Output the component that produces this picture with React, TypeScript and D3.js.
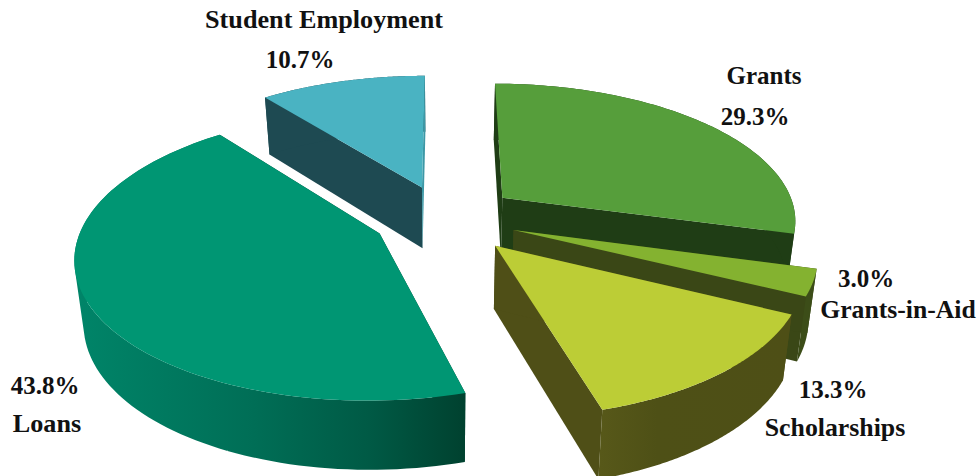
import React from "react";
import * as d3 from "d3";

// Share of funding by source, in percent, clockwise from twelve o'clock.
const categories = ["Grants", "Grants-in-Aid", "Scholarships", "Loans", "Student Employment"];
const shares = [29.3, 3.0, 13.3, 43.8, 10.7];

// How far each slice is pulled away from the centre, as a fraction of the radius.
const explosion = [0.25, 0.245, 0.257, 0.245, 0.245];

const topColors = ["#569e3b", "#84b230", "#bccd36", "#009673", "#4ab3c2"];
const rimColors = ["#1f3d15", "#3c4d18", "url(#scholarshipWall)", "url(#loanWall)", "#1e4a52"];
const startCutColors = ["#1f3d15", "#3a4716", "#4f4f17", "#00412f", "#1e4a52"];
const endCutColors = ["#1f3d15", "#3a4716", "#4f4f17", "#00412f", "#3d98a6"];

// Back-to-front painting order of the slices.
const paintOrder = [4, 0, 1, 3, 2];
// Slices whose closing cut face sits in front of their own rim wall.
const closingCutOnTop = [4];

const W = 979;
const H = 476;

// Camera model for the tilted disc: unit-plane coordinates go to screen pixels.
const CX = 445;
const CY = 218;
const SCALE_X = 295;
const SCALE_Y = 136.8;
const PERSPECTIVE = 0.15;
const DEPTH = 62;
const BASE_SHRINK = 0.975;

type Pt = [number, number];

const persp = (v: number) => 1 / (1 + PERSPECTIVE * v);
const project = ([u, v]: Pt): Pt => {
  const s = persp(v);
  return [CX + SCALE_X * u * s, CY - SCALE_Y * v * s];
};
const projectBase = ([u, v]: Pt): Pt => {
  const [x, y] = project([u, v]);
  return [CX + (x - CX) * BASE_SHRINK, y + DEPTH * Math.pow(persp(v), 0.6)];
};

const outline = d3.line<Pt>();

const pie = d3.pie<number>().sort(null).value((d) => d);
const arcs = pie(shares);

const labels = [
  { t: "Student Employment", x: 324, y: 28, size: 26.2 },
  { t: "10.7%", x: 300, y: 68, size: 25 },
  { t: "Grants", x: 764, y: 84, size: 25 },
  { t: "29.3%", x: 755, y: 125, size: 25 },
  { t: "3.0%", x: 866, y: 287, size: 25 },
  { t: "Grants-in-Aid", x: 898, y: 318, size: 25.7 },
  { t: "13.3%", x: 833, y: 398, size: 25 },
  { t: "Scholarships", x: 835, y: 436, size: 25.8 },
  { t: "43.8%", x: 45, y: 394, size: 25 },
  { t: "Loans", x: 47, y: 432, size: 26.2 },
];

// Every quad gets the same winding so overlapping quads never cancel under the nonzero rule.
function wound(quad: Pt[]): Pt[] {
  return d3.polygonArea(quad) < 0 ? quad.slice().reverse() : quad;
}

function sliceGeometry(i: number) {
  const { startAngle, endAngle } = arcs[i];
  const mid = (startAngle + endAngle) / 2;
  const apex: Pt = [explosion[i] * Math.sin(mid), explosion[i] * Math.cos(mid)];
  const angle = d3.scaleLinear().domain([0, 1]).range([startAngle, endAngle]);
  const rim: Pt[] = d3.range(0, 1.0001, 1 / 96).map((t) => {
    const a = angle(t);
    return [apex[0] + Math.sin(a), apex[1] + Math.cos(a)] as Pt;
  });
  const top = [apex, ...rim].map(project);
  // The rim wall is a run of quads so its silhouette follows the disc's tangents.
  const rimQuads = d3
    .pairs(rim)
    .map(([p, q]) => outline(wound([project(p), project(q), projectBase(q), projectBase(p)])) + "Z")
    .join("");
  const cutWall = (p: Pt, q: Pt) => [project(p), project(q), projectBase(q), projectBase(p)];
  return {
    top,
    rimQuads,
    startWall: cutWall(apex, rim[0]),
    endWall: cutWall(apex, rim[rim.length - 1]),
  };
}

export default function App() {
  return (
    <svg
      width={W}
      height={H}
      viewBox={`0 0 ${W} ${H}`}
      style={{ position: "absolute", left: 0, top: 0, background: "#fff" }}
    >
      <defs>
        <linearGradient id="loanWall" gradientUnits="userSpaceOnUse" x1={80} x2={466} y1={0} y2={0}>
          <stop offset="0" stopColor="#008468" />
          <stop offset="0.45" stopColor="#006e56" />
          <stop offset="0.75" stopColor="#005a45" />
          <stop offset="1" stopColor="#00412f" />
        </linearGradient>
        <linearGradient id="scholarshipWall" gradientUnits="userSpaceOnUse" x1={600} x2={790} y1={0} y2={0}>
          <stop offset="0" stopColor="#575819" />
          <stop offset="0.3" stopColor="#4e5016" />
          <stop offset="1" stopColor="#4e4f16" />
        </linearGradient>
      </defs>
      {paintOrder.map((i) => {
        const g = sliceGeometry(i);
        const endWall = <path d={outline(g.endWall) + "Z"} fill={endCutColors[i]} />;
        const closingOnTop = closingCutOnTop.includes(i);
        return (
          <g key={categories[i]}>
            {!closingOnTop && endWall}
            <path d={outline(g.startWall) + "Z"} fill={startCutColors[i]} />
            <path d={g.rimQuads} fill={rimColors[i]} />
            {closingOnTop && endWall}
            <path d={outline(g.top) + "Z"} fill={topColors[i]} />
          </g>
        );
      })}
      {labels.map((l) => (
        <text
          key={l.t}
          x={l.x}
          y={l.y}
          textAnchor="middle"
          fontFamily="'Liberation Serif', serif"
          fontWeight="bold"
          fontSize={l.size}
          fill="#111"
        >
          {l.t}
        </text>
      ))}
    </svg>
  );
}
